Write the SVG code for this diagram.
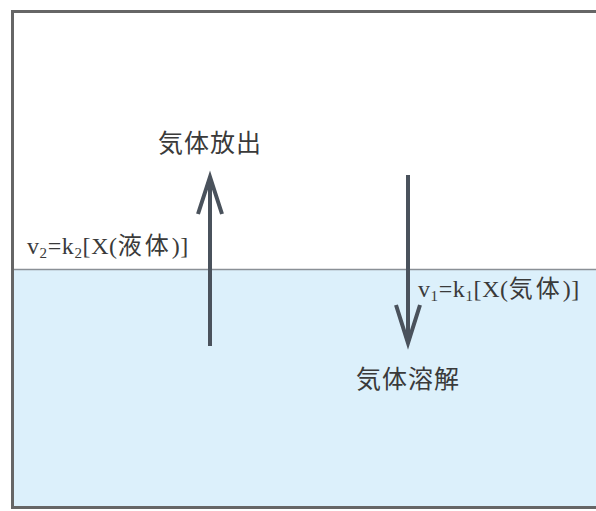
<svg xmlns="http://www.w3.org/2000/svg" width="596" height="511" viewBox="0 0 596 511">
<defs>
<style>
.lbl{font-family:"Noto Sans CJK JP","Noto Sans CJK SC",sans-serif;font-size:25px;fill:#3a3a3a;letter-spacing:1px;}
.eq{font-family:"Liberation Serif","Noto Sans CJK JP",serif;font-size:24px;fill:#3a3a3a;letter-spacing:0.6px;}
.cjk{font-family:"Noto Sans CJK JP","Noto Sans CJK SC",sans-serif;font-size:24px;letter-spacing:3px;}
.sub{font-size:15px;}
.arr{stroke:#4a525c;stroke-width:4;fill:none;stroke-linecap:butt;stroke-linejoin:miter;}
</style>
</defs>
<rect x="0" y="0" width="596" height="511" fill="#ffffff"/>
<g id="liquid">
<rect x="13" y="270" width="590" height="238" fill="#dcf0fb"/>
<line x1="13" y1="269.5" x2="596" y2="269.5" stroke="#8a9096" stroke-width="1.5"/>
</g>
<rect id="frame" x="12.5" y="11.5" width="600" height="496" fill="none" stroke="#666" stroke-width="3"/>
<g id="connectors">
<path class="arr" d="M210 346 V177 M198 214 L210 177 L222 214"/>
<path class="arr" d="M408 175 V343 M396 305 L408 343 L420 305"/>
</g>
<g id="release"><text class="lbl" x="210" y="152" text-anchor="middle">気体放出</text></g>
<g id="dissolve"><text class="lbl" x="408" y="388" text-anchor="middle">気体溶解</text></g>
<g id="eq2"><text class="eq" x="27" y="254">v<tspan class="sub" dy="4">2</tspan><tspan dy="-4">=k</tspan><tspan class="sub" dy="4">2</tspan><tspan dy="-4">[X(</tspan><tspan class="cjk">液体</tspan><tspan>)]</tspan></text></g>
<g id="eq1"><text class="eq" x="418" y="297">v<tspan class="sub" dy="4">1</tspan><tspan dy="-4">=k</tspan><tspan class="sub" dy="4">1</tspan><tspan dy="-4">[X(</tspan><tspan class="cjk">気体</tspan><tspan>)]</tspan></text></g>
</svg>
